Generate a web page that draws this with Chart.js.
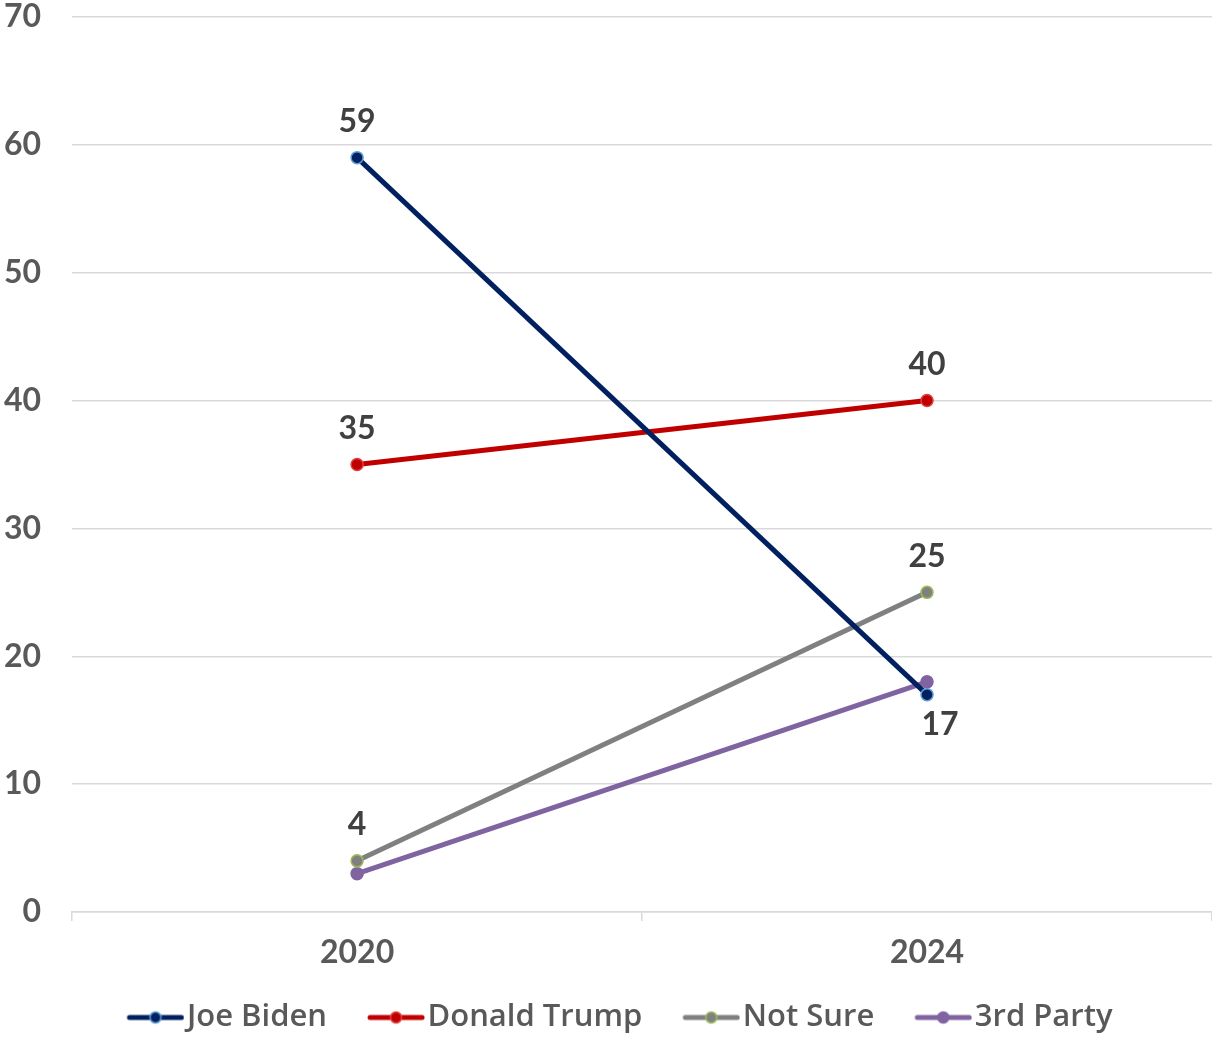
<!DOCTYPE html>
<html>
<head>
<meta charset="utf-8">
<script src="https://cdn.jsdelivr.net/npm/chart.js@4/dist/chart.umd.min.js"></script>
<style>
  body { margin: 0; background: #fff; }
  #wrap { width: 1212px; height: 1037px; position: relative; }
</style>
</head>
<body>
<div id="wrap"><canvas id="lineChart"></canvas></div>
<script>
let years = ['2020', '2024'];
let biden = [59, 17];
let trump = [35, 40];
let notSure = [4, 25];
let thirdParty = [3, 18];
let yTicks = [0, 10, 20, 30, 40, 50, 60, 70];

let fontFamily = "Lato, 'Noto Sans', sans-serif";
let legendFamily = "'Open Sans', Lato, sans-serif";

// little line + dot for the legend (blank strip on the left so text sits close)
let legendMark = (lineColor, fill, border) => {
    let c = document.createElement('canvas');
    c.width = 94;
    c.height = 16;
    let ctx = c.getContext('2d');
    ctx.strokeStyle = lineColor;
    ctx.lineWidth = 5;
    ctx.lineCap = 'round';
    ctx.beginPath();
    ctx.moveTo(39, 8);
    ctx.lineTo(91, 8);
    ctx.stroke();
    ctx.beginPath();
    ctx.arc(65, 8, 5.5, 0, Math.PI * 2);
    ctx.fillStyle = fill;
    ctx.fill();
    ctx.lineWidth = 1.5;
    ctx.strokeStyle = border;
    ctx.stroke();
    return c;
};

// value labels, only where the chart shows them
let valueLabels = {
    id: 'valueLabels',
    afterDatasetsDraw(chart) {
        let ctx = chart.ctx;
        ctx.save();
        ctx.font = "bold 32px " + fontFamily;
        ctx.fillStyle = '#404040';
        ctx.textAlign = 'center';
        ctx.textBaseline = 'middle';
        chart.data.datasets.forEach((ds, i) => {
            if (!ds.labelPlaces) return;
            let meta = chart.getDatasetMeta(i);
            meta.data.forEach((pt, j) => {
                let place = ds.labelPlaces[j];
                if (!place) return;
                let dy = place === 'below' ? 30 : -36;
                let dx = place === 'below' ? 13 : 0;
                ctx.fillText(ds.data[j], pt.x + dx, pt.y + dy);
            });
        });
        ctx.restore();
    }
};

let makeSet = (label, data, color, pointFill, pointBorder, labelPlaces) => ({
    label: label,
    data: data,
    borderColor: color,
    backgroundColor: pointFill,
    borderWidth: 5,
    pointRadius: 6,
    pointHoverRadius: 6,
    pointBackgroundColor: pointFill,
    pointBorderColor: pointBorder,
    pointBorderWidth: 1.5,
    labelPlaces: labelPlaces,
    legendImg: legendMark(color, pointFill, pointBorder)
});

let datasets = [
    makeSet('Joe Biden', biden, '#002060', '#002060', '#5B9BD5', ['above', 'below']),
    makeSet('Donald Trump', trump, '#C00000', '#C00000', '#E04040', ['above', 'above']),
    makeSet('Not Sure', notSure, '#808080', '#808080', '#9BBB59', ['above', 'above']),
    makeSet('3rd Party', thirdParty, '#8064A2', '#8064A2', '#8064A2', null)
];

let ctx = document.getElementById('lineChart');
let myLineChart = new Chart(ctx, {
    type: 'line',
    data: { labels: years, datasets: datasets },
    plugins: [valueLabels],
    options: {
        responsive: true,
        maintainAspectRatio: false,
        animation: false,
        layout: { autoPadding: false, padding: { top: 17, right: 0, bottom: -6, left: 4 } },
        plugins: {
            tooltip: { enabled: false },
            legend: {
                position: 'bottom',
                labels: {
                    usePointStyle: true,
                    pointStyleWidth: 68,
                    padding: 17,
                    color: '#595959',
                    font: { family: legendFamily, size: 31, weight: '600' },
                    generateLabels: (chart) => chart.data.datasets.map((ds, i) => ({
                        text: ds.label,
                        pointStyle: ds.legendImg,
                        fillStyle: ds.borderColor,
                        strokeStyle: ds.borderColor,
                        lineWidth: 0,
                        fontColor: '#595959',
                        hidden: false,
                        datasetIndex: i
                    }))
                }
            }
        },
        scales: {
            x: {
                offset: true,
                grid: {
                    offset: true,
                    drawOnChartArea: false,
                    drawTicks: true,
                    tickLength: 9,
                    color: '#d9d9d9',
                    lineWidth: 1.5
                },
                border: { color: '#d9d9d9', width: 1.5 },
                ticks: {
                    color: '#595959',
                    padding: 0,
                    font: { family: fontFamily, size: 32, weight: 'bold', lineHeight: 2 }
                }
            },
            y: {
                min: 0,
                max: 70,
                afterBuildTicks: (axis) => { axis.ticks = yTicks.map(v => ({ value: v })); },
                grid: {
                    color: '#d9d9d9',
                    lineWidth: 1.5,
                    drawTicks: true,
                    tickLength: 31,
                    tickColor: 'rgba(0,0,0,0)'
                },
                border: { display: false },
                ticks: {
                    color: '#595959',
                    padding: 0,
                    font: { family: fontFamily, size: 32, weight: 'bold', lineHeight: 1 }
                }
            }
        }
    }
});
</script>
</body>
</html>
